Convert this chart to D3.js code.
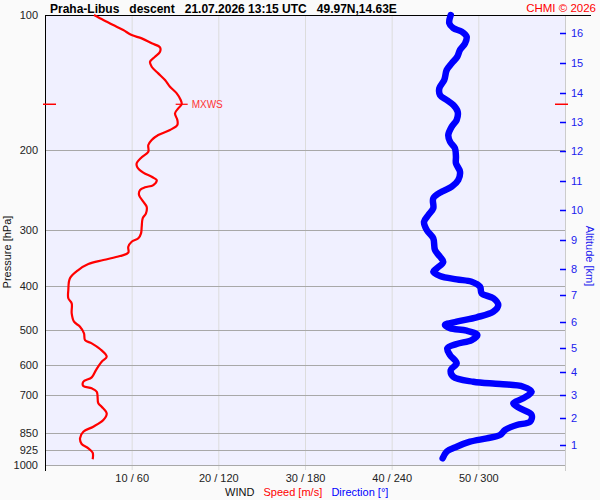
<!DOCTYPE html>
<html><head><meta charset="utf-8">
<script src="https://cdn.jsdelivr.net/npm/d3@7"></script>
<style>
html,body{margin:0;padding:0;background:#fafafa;}
svg{display:block;font-family:"Liberation Sans",Arial,sans-serif;}
</style></head>
<body>
<svg id="c" width="600" height="500"></svg>
<script>
// ---- data ----
const pressureTicks = [100, 200, 300, 400, 500, 600, 700, 850, 925, 1000];
const windTicks = [10, 20, 30, 40, 50];          // speed m/s (direction = x6)
const windTickLabels = ["10 / 60", "20 / 120", "30 / 180", "40 / 240", "50 / 300"];
const altitudeKm = [1, 2, 3, 4, 5, 6, 7, 8, 9, 10, 11, 12, 13, 14, 15, 16];
const altitudePressure = [902.7, 787.6, 698.0, 621.5, 549.5, 481.2, 419.0, 366.7, 315.7, 271.3, 233.5, 200.6, 172.9, 149.1, 127.8, 109.8];

const speedPressure = [100,102.6,105.3,108.0,110.8,112.7,115.6,118.0,120.7,123.8,127.0,130.3,134.8,139.5,144.3,149.3,154.5,157.9,161.2,165.4,171.1,175.5,180.1,184.8,189.6,194.5,201.3,207.1,213.6,218.0,224.1,228.8,232.7,238.7,241.5,244.9,251.2,259.9,266.7,275.9,283.0,295.4,305.6,313.5,319.0,327.3,337.5,343.3,350.4,357.6,368.8,384.8,408.4,426.1,437.2,460.2,480.4,492.8,509.8,527.6,536.6,552.5,574.7,589.6,615.2,638.6,653.1,667.6,675.5,687.3,729.4,742.2,767.7,794.3,822.0,843.3,872.3,898.1,918.1,939.0,971.2];
const speedValues = [5.65,6.73,7.88,9.03,10.0,11.16,12.31,13.27,13.27,12.69,12.12,12.31,13.07,13.85,14.42,15.2,15.66,15.77,15.38,15.0,15.27,15.27,14.42,13.07,12.31,11.92,11.92,11.16,10.58,10.65,11.34,12.31,12.89,12.5,11.54,10.96,10.85,11.34,11.73,11.65,11.27,11.16,11.08,10.77,10.0,9.61,9.61,8.65,6.73,5.0,3.84,2.88,2.69,2.69,3.08,3.08,3.35,4.04,4.5,4.62,5.39,6.35,7.12,6.54,5.88,5.39,4.42,4.42,5.39,5.97,6.15,6.54,7.12,6.73,5.57,4.42,4.04,4.23,5.0,5.5,5.5];

const dirPressure = [100,104.3,107.0,108.9,111.7,115.6,119.6,123.8,128.0,132.5,139.5,145.5,150.6,154.5,158.5,164.0,171.1,177.1,184.8,191.2,197.8,206.5,213.6,222.9,232.7,240.8,247.0,255.5,268.9,278.3,288.0,300.5,313.5,332.9,344.5,353.5,365.6,372.0,380.2,386.8,391.5,401.7,415.5,426.1,441.0,456.4,469.7,480.4,488.6,496.9,503.0,514.3,527.6,538.5,550.6,569.8,594.3,615.2,636.6,653.1,660.7,669.9,687.3,710.9,729.4,748.2,774.3,801.3,814.9,836.0,857.7,872.3,887.6,910.6,934.2,966.3];
const dirValues = [280.9,279.9,282.7,288.5,291.9,290.8,287.3,285.4,281.6,278.1,276.4,273.0,273.5,278.1,282.7,285.7,285.0,281.6,279.2,280.4,283.8,284.5,284.5,287.3,286.1,281.6,274.6,268.8,268.8,265.4,262.4,264.3,268.8,270.0,273.5,275.7,271.2,268.8,273.5,285.0,295.4,301.2,302.3,310.4,313.8,310.4,298.9,285.0,276.9,280.4,291.9,299.3,295.4,285.0,278.5,280.4,285.0,280.9,282.7,296.5,315.0,331.1,336.9,331.1,324.2,328.8,336.9,335.8,326.6,318.5,315.0,305.8,294.2,285.0,278.1,275.3];

const mxwsPressure = 157.9;
const mxwsSpeed = 15.77;

const titleText = "Praha-Libus   descent   21.07.2026 13:15 UTC   49.97N,14.63E";
const copyrightText = "CHMI \u00A9 2026";

// ---- layout ----
const L = 45, R = 565, T = 15, B = 465;
const svg = d3.select("#c");
const y = d3.scaleLog().domain([100, 1000]).range([T, B]);
const xs = d3.scaleLinear().domain([0, 60]).range([L, R]);
const xd = d3.scaleLinear().domain([0, 360]).range([L, R]);

svg.append("rect").attr("width", 600).attr("height", 500).attr("fill", "#fafafa");
svg.append("rect").attr("x", L).attr("y", T).attr("width", R - L).attr("height", B - T).attr("fill", "#f0f0ff");

// vertical grid (wind)
const gx = svg.append("g").attr("transform", `translate(0,${T})`)
  .call(d3.axisBottom(xs).tickValues(windTicks).tickSize(B - T + 5).tickFormat((d, i) => windTickLabels[i]));
gx.select(".domain").remove();
gx.selectAll(".tick line").attr("stroke", "#dcdcdc");
gx.selectAll(".tick text").attr("fill", "#222").attr("font-size", 11).attr("dy", null).attr("y", B - T + 11 + 5 + 1)
  .attr("font-family", "Liberation Sans, Arial, sans-serif");

// horizontal grid (pressure)
const gy = svg.append("g").attr("transform", `translate(${L},0)`)
  .call(d3.axisLeft(y).tickValues(pressureTicks).tickSize(0).tickPadding(7).tickFormat(d3.format("d")));
gy.select(".domain").remove();
gy.selectAll(".tick text").attr("fill", "#222").attr("font-size", 11).attr("font-family", "Liberation Sans, Arial, sans-serif");
svg.append("g").selectAll("line").data(pressureTicks.filter(p => p > 100)).join("line")
  .attr("x1", L).attr("x2", R).attr("y1", d => Math.round(y(d)) + 0.5).attr("y2", d => Math.round(y(d)) + 0.5)
  .attr("stroke", "#a8a8a8");

// right altitude axis
svg.append("line").attr("x1", R + 0.5).attr("x2", R + 0.5).attr("y1", T).attr("y2", B + 6).attr("stroke", "#cccccc");
const ga = svg.append("g").attr("transform", `translate(${R},0)`);
altitudeKm.forEach((k, i) => {
  const yy = Math.round(y(altitudePressure[i])) + 0.5;
  ga.append("line").attr("x1", -5).attr("x2", 1).attr("y1", yy).attr("y2", yy).attr("stroke", "#0000ff").attr("stroke-width", 1.5);
  ga.append("text").attr("x", 6).attr("y", yy).attr("dy", "0.35em").attr("fill", "#2020ee").attr("font-size", 11).text(k);
});

// axes lines
svg.append("line").attr("x1", L + 0.5).attr("x2", L + 0.5).attr("y1", T).attr("y2", B + 6).attr("stroke", "#000");
svg.append("line").attr("x1", L).attr("x2", 591).attr("y1", T + 0.5).attr("y2", T + 0.5).attr("stroke", "#000");

// MXWS side markers
const ym = y(mxwsPressure);
svg.append("line").attr("x1", 43).attr("x2", 56).attr("y1", ym).attr("y2", ym).attr("stroke", "#ff0000").attr("stroke-width", 1.5);
svg.append("line").attr("x1", 555).attr("x2", 568).attr("y1", ym).attr("y2", ym).attr("stroke", "#ff0000").attr("stroke-width", 1.5);

// data lines
const clip = svg.append("clipPath").attr("id", "cp").append("rect").attr("x", L).attr("y", T - 4).attr("width", R - L).attr("height", B - T + 4);
const speedData = speedPressure.map((p, i) => [speedValues[i], p]);
const dirData = dirPressure.map((p, i) => [dirValues[i], p]);
svg.append("path").datum(dirData)
  .attr("d", d3.line().x(d => xd(d[0])).y(d => y(d[1])).curve(d3.curveCatmullRom))
  .attr("fill", "none").attr("stroke", "#0000ff").attr("stroke-width", 6.5).attr("stroke-linecap", "round").attr("stroke-linejoin", "round");
svg.append("path").datum(speedData)
  .attr("d", d3.line().x(d => xs(d[0])).y(d => y(d[1])).curve(d3.curveCatmullRom))
  .attr("fill", "none").attr("stroke", "#ff0000").attr("stroke-width", 2.2).attr("stroke-linejoin", "round");

// MXWS marker
const xm = xs(mxwsSpeed);
svg.append("line").attr("x1", xm - 6).attr("x2", xm + 6).attr("y1", ym).attr("y2", ym).attr("stroke", "#ff0000").attr("stroke-width", 1.2);
svg.append("text").attr("x", xm + 10).attr("y", ym).attr("dy", "0.38em").attr("fill", "#ff3333").attr("font-size", 10).text("MXWS");

// titles
svg.append("text").attr("x", 50).attr("y", 12.5).attr("font-size", 12).attr("font-weight", "bold").attr("fill", "#000")
  .style("white-space", "pre").text(titleText);
svg.append("text").attr("x", 596).attr("y", 12).attr("text-anchor", "end").attr("font-size", 11.5).attr("fill", "#ff0000").text(copyrightText);

svg.append("text").attr("transform", "translate(11,252) rotate(-90)").attr("text-anchor", "middle").attr("font-size", 11).attr("fill", "#111").text("Pressure [hPa]");
svg.append("text").attr("transform", "translate(585.5,256) rotate(90)").attr("text-anchor", "middle").attr("font-size", 11).attr("fill", "#2020ee").text("Altitude [km]");

const bt = svg.append("text").attr("x", 225).attr("y", 496).attr("font-size", 11).style("white-space", "pre");
bt.append("tspan").attr("fill", "#111").text("WIND   ");
bt.append("tspan").attr("fill", "#ff0000").text("Speed [m/s]   ");
bt.append("tspan").attr("fill", "#0000ff").text("Direction [\u00B0]");
</script>
</body></html>
